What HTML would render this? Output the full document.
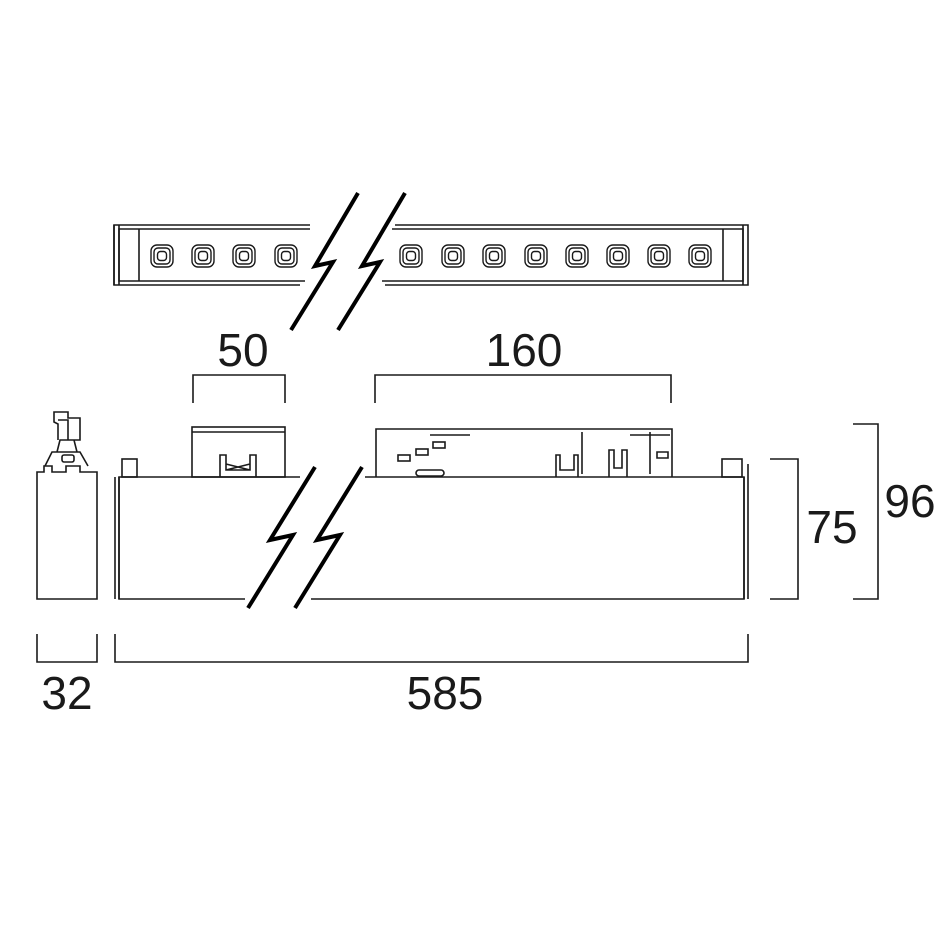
<!DOCTYPE html>
<html><head><style>html,body{margin:0;padding:0;background:#fff}svg{display:block}</style></head><body>
<svg width="946" height="946" viewBox="0 0 946 946" xmlns="http://www.w3.org/2000/svg" fill="none" stroke="#1a1a1a" stroke-width="1.6">
<defs>
<g id="led" stroke-width="1.4"><rect x="-11" y="-11" width="22" height="22" rx="6"/><rect x="-8" y="-8" width="16" height="16" rx="4"/><rect x="-4.5" y="-4.5" width="9" height="9" rx="3"/></g>
</defs>
<!-- top strip -->
<path d="M310 225H114V285H300M310 229H119V281H305"/>
<path d="M395 225H748V285H385M392 229H743V281H382"/>
<path d="M114 225V285M119 225V285M139 229V281M743 225V285M723 229V281"/>
<use href="#led" x="162" y="256"/><use href="#led" x="203" y="256"/><use href="#led" x="244" y="256"/><use href="#led" x="286" y="256"/>
<use href="#led" x="411" y="256"/><use href="#led" x="453" y="256"/><use href="#led" x="494" y="256"/><use href="#led" x="536" y="256"/>
<use href="#led" x="577" y="256"/><use href="#led" x="618" y="256"/><use href="#led" x="659" y="256"/><use href="#led" x="700" y="256"/>
<g stroke-width="4" stroke="#000">
<polyline points="358,193 315,266 333,262 291,330"/>
<polyline points="405,193 362,266 380,262 338,330"/>
</g>
<!-- side view -->
<path d="M37 472V599H97V472H80V466H66V472H52V466H44V472Z"/>
<path d="M45 466L52 452H80L88 466M57 452L60 440H74L77 452M58 440V424L54 422V412H68V418H80V440H68V420H58"/>
<rect x="62" y="455" width="12" height="7" rx="2"/>
<!-- main body -->
<path d="M300 477H119V599H245M311 599H744V477H365"/>
<path d="M115 477V599M119 477V599M744 477V599M748 464V599"/>
<rect x="122" y="459" width="15" height="18"/><rect x="722" y="459" width="20" height="18"/>
<rect x="192" y="427" width="93" height="50"/><path d="M192 432H285"/>
<path d="M220 477V455H226V470H250V455H256V477M226 470L250 464M226 464L250 470"/>
<path d="M376 477V429H672V477"/><path d="M430 435H470M630 435H670M582 432V474M650 432V474"/>
<rect x="398" y="455" width="12" height="6"/><rect x="416" y="449" width="12" height="6"/><rect x="433" y="442" width="12" height="6"/>
<rect x="416" y="470" width="28" height="6" rx="3"/>
<path d="M556 477V455H560V470H574V455H578V477M609 477V450H614V468H622V450H627V477M657 452H668V458H657Z"/>
<g stroke-width="4" stroke="#000">
<polyline points="315,467 270,540 293,535 248,608"/>
<polyline points="362,467 317,540 340,535 295,608"/>
</g>
<!-- dimensions -->
<path d="M193 403V375H285V403M375 403V375H671V403M770 459H798V599H770M853 424H878V599H853M37 634V662H97V634M115 634V662H748V634"/>
<g fill="#1a1a1a" stroke="none" font-family="Liberation Sans, sans-serif" font-size="46" text-anchor="middle">
<text x="243" y="366">50</text><text x="524" y="366">160</text>
<text x="832" y="543">75</text><text x="910" y="517">96</text>
<text x="67" y="709">32</text><text x="445" y="709">585</text>
</g>
</svg>
</body></html>
